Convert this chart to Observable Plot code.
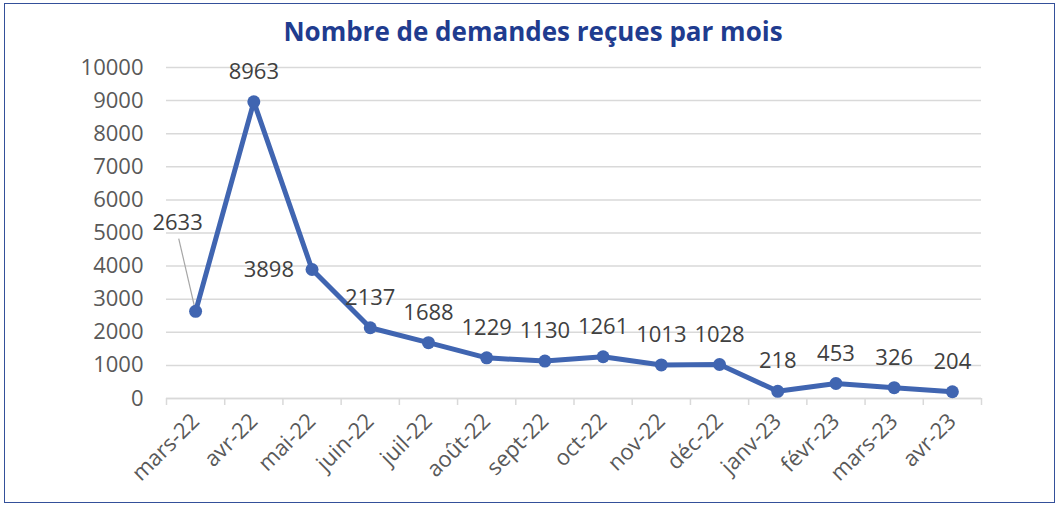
<!DOCTYPE html>
<html><head><meta charset="utf-8">
<script src="https://cdn.jsdelivr.net/npm/d3@7"></script>
<script src="https://cdn.jsdelivr.net/npm/@observablehq/plot@0.6"></script>
<style>
html,body{margin:0;padding:0;background:#fff;}
#wrap{position:relative;width:1056px;height:506px;overflow:hidden;font-family:"Open Sans",sans-serif;}
#border{position:absolute;left:4px;top:3px;width:1051px;height:500px;box-sizing:border-box;border:1.5px solid #34509a;}
#title{position:absolute;left:0;top:13px;width:1066px;text-align:center;font-family:"Open Sans",sans-serif;font-weight:700;font-size:26px;color:#1f3c8f;letter-spacing:0px;}
#chart{position:absolute;left:0;top:50px;}
</style></head>
<body>
<div id="wrap">
  <div id="border"></div>
  <div id="title">Nombre de demandes reçues par mois</div>
  <div id="chart"></div>
</div>
<script>
const months = ["mars-22","avr-22","mai-22","juin-22","juil-22","août-22","sept-22","oct-22","nov-22","déc-22","janv-23","févr-23","mars-23","avr-23"];
const values = [2633, 8963, 3898, 2137, 1688, 1229, 1130, 1261, 1013, 1028, 218, 453, 326, 204];
const yTicks = [0,1000,2000,3000,4000,5000,6000,7000,8000,9000,10000];

const data = months.map((m, i) => ({i, month: m, value: values[i]}));
const boundaries = months.map((m, i) => i - 0.5).concat([months.length - 0.5]);
const centers = data.map(d => d.i);

const lineColor = "#4065b1";
const labelColor = "#404040";
const tickColor = "#595959";
const gridColor = "#d9d9d9";

// label placement (style)
const leftLabel = new Set(["mai-22"]);
const leaderLabel = new Set(["mars-22"]);
const normal = data.filter(d => !leftLabel.has(d.month) && !leaderLabel.has(d.month));
const lefts = data.filter(d => leftLabel.has(d.month));
const leaders = data.filter(d => leaderLabel.has(d.month));

const chart = Plot.plot({
  width: 1056, height: 456,
  marginLeft: 166, marginRight: 75, marginTop: 17, marginBottom: 108,
  style: {fontFamily: "'Open Sans', sans-serif", fontSize: "22px", color: tickColor, background: "transparent", overflow: "visible"},
  x: {type: "linear", domain: [-0.5, months.length - 0.5], label: null, axis: null},
  y: {domain: [0, 10000], label: null, axis: null},
  marks: [
    Plot.gridY(yTicks, {stroke: gridColor, strokeOpacity: 1, strokeWidth: 1.5}),
    Plot.axisY(yTicks, {tickSize: 0, tickPadding: 23, label: null, fill: tickColor, fontSize: 22, tickFormat: d => String(d)}),
    Plot.ruleY([0], {stroke: gridColor, strokeWidth: 1.5}),
    Plot.axisX(boundaries, {tickSize: 7, stroke: gridColor, strokeWidth: 1.5, strokeOpacity: 1, tickFormat: () => "", label: null}),
    Plot.axisX(centers, {tickSize: 0, tickPadding: 19, tickRotate: -45, tickFormat: i => months[i], label: null, fill: tickColor, fontSize: 22}),
    Plot.link(leaders, {x1: "i", y1: "value", x2: d => d.i - 0.29, y2: d => d.value + 2200, stroke: "#a6a6a6", strokeWidth: 1.2}),
    Plot.line(data, {x: "i", y: "value", stroke: lineColor, strokeWidth: 5}),
    Plot.dot(data, {x: "i", y: "value", r: 6.5, fill: lineColor}),
    Plot.text(normal, {x: "i", y: "value", text: d => String(d.value), dy: -30, fill: labelColor, fontSize: 22}),
    Plot.text(lefts, {x: "i", y: "value", text: d => String(d.value), dx: -18, textAnchor: "end", fill: labelColor, fontSize: 22}),
    Plot.text(leaders, {x: "i", y: "value", text: d => String(d.value), dx: -18, dy: -88, fill: labelColor, fontSize: 22})
  ]
});
document.getElementById("chart").appendChild(chart);
</script>
</body></html>
